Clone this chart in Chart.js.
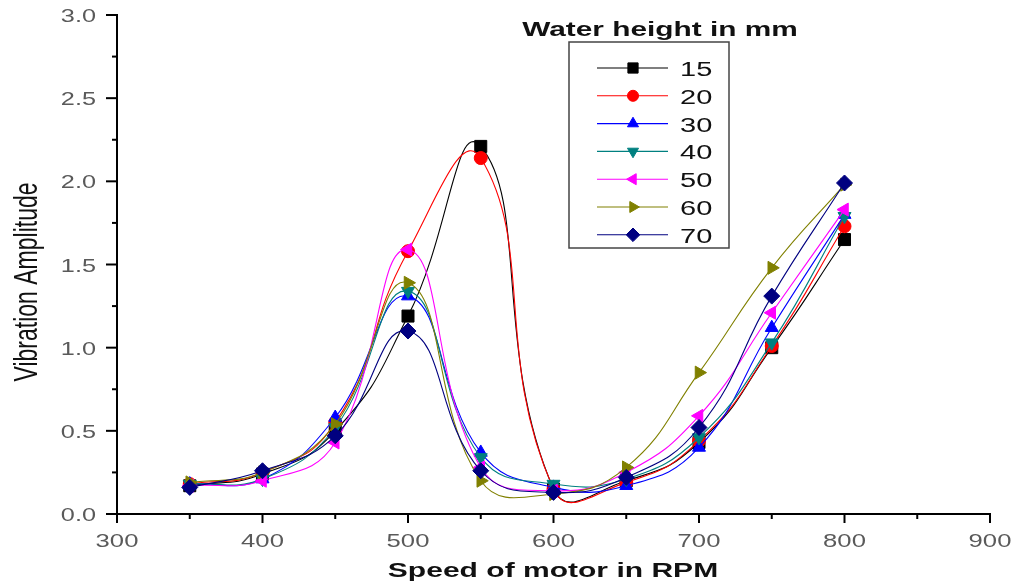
<!DOCTYPE html>
<html>
<head>
<meta charset="utf-8">
<script src="https://cdn.jsdelivr.net/npm/chart.js@4.4.0/dist/chart.umd.min.js"></script>
<style>
  html, body { margin: 0; padding: 0; background: #fff; }
  #wrap { width: 1016px; height: 588px; }
</style>
</head>
<body>
<div id="wrap"><canvas id="vibChart" width="1016" height="588"></canvas></div>
<script>
// motor speed (RPM) where each amplitude was measured
var rpm = [350, 400, 450, 500, 550, 600, 650, 700, 750, 800];

// vibration amplitude for each water height
var h15 = [0.17, 0.24, 0.50, 1.19, 2.21, 0.15, 0.20, 0.43, 1.00, 1.65];
var h20 = [0.18, 0.25, 0.55, 1.58, 2.14, 0.15, 0.19, 0.44, 1.01, 1.73];
var h30 = [0.18, 0.21, 0.58, 1.31, 0.37, 0.16, 0.17, 0.40, 1.12, 1.80];
var h40 = [0.18, 0.21, 0.52, 1.34, 0.34, 0.18, 0.21, 0.46, 1.03, 1.79];
var h50 = [0.17, 0.20, 0.43, 1.59, 0.28, 0.14, 0.25, 0.59, 1.21, 1.83];
var h60 = [0.19, 0.25, 0.54, 1.39, 0.20, 0.12, 0.28, 0.85, 1.48, 1.98];
var h70 = [0.16, 0.26, 0.47, 1.10, 0.26, 0.13, 0.22, 0.52, 1.31, 1.99];

var seriesNames = ['15', '20', '30', '40', '50', '60', '70'];
var seriesValues = [h15, h20, h30, h40, h50, h60, h70];

// axis tick labels
var xTickLabels = ['300', '400', '500', '600', '700', '800', '900'];
var yTickLabels = ['0.0', '0.5', '1.0', '1.5', '2.0', '2.5', '3.0'];

var styles = [
    { color: '#000000', shape: 'rect', rot: 0, r: 8.5, tension: 0.5 },
    { color: '#ff0000', shape: 'circle', rot: 0, r: 6.5, tension: 0.5 },
    { color: '#0000ff', shape: 'triangle', rot: 0, r: 7.5, tension: 0.45 },
    { color: '#008080', shape: 'triangle', rot: 180, r: 7.5, tension: 0.45 },
    { color: '#ff00ff', shape: 'triangle', rot: -90, r: 7.5, tension: 0.45 },
    { color: '#808000', shape: 'triangle', rot: 90, r: 7.5, tension: 0.45 },
    { color: '#000080', shape: 'rectRot', rot: 0, r: 8, tension: 0.45 }
];

var datasets = seriesValues.map(function (vals, i) {
    var s = styles[i];
    return {
        label: seriesNames[i],
        data: rpm.map(function (x, j) { return { x: x, y: vals[j] }; }),
        borderColor: s.color,
        backgroundColor: s.color,
        borderWidth: 1.1,
        pointStyle: s.shape,
        pointRotation: s.rot,
        pointRadius: s.r,
        pointBorderWidth: 1,
        tension: s.tension,
        order: seriesNames.length - i
    };
});

// text drawn wide, like the exported figure
function wideText(ctx, text, x, y, font, sx, align, color) {
    ctx.save();
    ctx.translate(x, y);
    ctx.scale(sx, 1);
    ctx.font = font;
    ctx.fillStyle = color || '#000';
    ctx.textAlign = align;
    ctx.textBaseline = 'alphabetic';
    ctx.fillText(text, 0, 0);
    ctx.restore();
}

var axesPlugin = {
    id: 'originAxes',
    afterDraw: function (chart) {
        var ctx = chart.ctx;
        var xs = chart.scales.x, ys = chart.scales.y;
        var area = chart.chartArea;
        ctx.save();
        ctx.strokeStyle = '#000';
        ctx.lineWidth = 2;

        // x ticks, major on labels and minor halfway
        xTickLabels.forEach(function (lab, i) {
            var v = Number(lab);
            var px = xs.getPixelForValue(v);
            ctx.beginPath();
            ctx.moveTo(px, area.bottom);
            ctx.lineTo(px, area.bottom + 9);
            ctx.stroke();
            wideText(ctx, lab, px, 547, '19px "Liberation Sans", Arial, sans-serif', 1.35, 'center', '#5a5a5a');
            if (i < xTickLabels.length - 1) {
                var pm = xs.getPixelForValue(v + 50);
                ctx.beginPath();
                ctx.moveTo(pm, area.bottom);
                ctx.lineTo(pm, area.bottom + 5);
                ctx.stroke();
            }
        });

        // y ticks
        yTickLabels.forEach(function (lab, i) {
            var v = Number(lab);
            var py = ys.getPixelForValue(v);
            ctx.beginPath();
            ctx.moveTo(area.left, py);
            ctx.lineTo(area.left - 11, py);
            ctx.stroke();
            wideText(ctx, lab, 96, py + 7, '19px "Liberation Sans", Arial, sans-serif', 1.33, 'right', '#5a5a5a');
            if (i < yTickLabels.length - 1) {
                var pm = ys.getPixelForValue(v + 0.25);
                ctx.beginPath();
                ctx.moveTo(area.left, pm);
                ctx.lineTo(area.left - 5, pm);
                ctx.stroke();
            }
        });

        // axis titles
        wideText(ctx, 'Speed of motor in RPM', 553, 577, 'bold 21px "Liberation Sans", Arial, sans-serif', 1.43, 'center', '#111');
        ctx.save();
        ctx.translate(37, 282);
        ctx.rotate(-Math.PI / 2);
        ctx.scale(1, 1.45);
        ctx.font = '23px "Liberation Sans", Arial, sans-serif';
        ctx.fillStyle = '#111';
        ctx.textAlign = 'center';
        ctx.fillText('Vibration Amplitude', 0, 0);
        ctx.restore();

        // legend
        wideText(ctx, 'Water height in mm', 660, 36, 'bold 21px "Liberation Sans", Arial, sans-serif', 1.42, 'center', '#111');
        ctx.strokeStyle = '#444';
        ctx.lineWidth = 1.5;
        ctx.strokeRect(569, 42, 160, 206);
        chart.data.datasets.forEach(function (ds, i) {
            var ry = 68 + i * 27.8;
            ctx.strokeStyle = ds.borderColor;
            ctx.lineWidth = 1.1;
            ctx.beginPath();
            ctx.moveTo(597, ry);
            ctx.lineTo(668, ry);
            ctx.stroke();
            ctx.fillStyle = ds.backgroundColor;
            ctx.lineWidth = 1;
            Chart.helpers.drawPoint(ctx, {
                pointStyle: ds.pointStyle,
                rotation: ds.pointRotation,
                radius: ds.pointRadius * 0.85,
                borderWidth: 1
            }, 633, ry);
            wideText(ctx, ds.label, 680, ry + 8, '20px "Liberation Sans", Arial, sans-serif', 1.45, 'left', '#111');
        });
        ctx.restore();
    }
};

var ctx = document.getElementById('vibChart').getContext('2d');
var vibChart = new Chart(ctx, {
    type: 'line',
    data: { datasets: datasets },
    options: {
        responsive: false,
        devicePixelRatio: 1,
        animation: false,
        layout: { padding: { left: 0, top: 15, right: 26, bottom: 0 } },
        elements: { line: { capBezierPoints: false } },
        plugins: {
            legend: { display: false },
            tooltip: { enabled: false }
        },
        scales: {
            x: {
                type: 'linear',
                min: 300,
                max: 900,
                ticks: { display: false, stepSize: 100 },
                grid: { display: false },
                border: { display: true, color: '#000', width: 2 },
                afterFit: function (scale) { scale.height = 74; }
            },
            y: {
                min: 0,
                max: 3,
                ticks: { display: false, stepSize: 0.5 },
                grid: { display: false },
                border: { display: true, color: '#000', width: 2 },
                afterFit: function (scale) { scale.width = 117; }
            }
        }
    },
    plugins: [axesPlugin]
});
</script>
</body>
</html>
